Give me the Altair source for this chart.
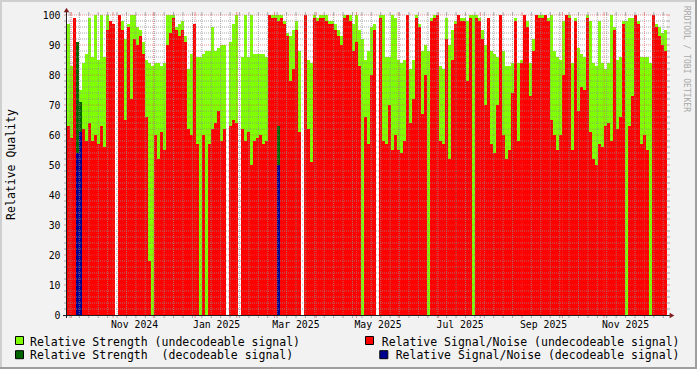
import altair as alt
import pandas as pd

# ---------------- data (one value per bin) ----------------
T0 = pd.Timestamp("2024-09-27 19:00:00")
SPAN_DAYS = 446
N_BINS = 200

strength = [
    97, 83, 83, None, 75, 84, 87, 99, 86, 100,
    85, 100, 86, 100, 98, 97, None, 100, 98, 92,
    97, 100, 100, 96, 95, 91, 85, 84, 83, 84,
    84, 83, 84, 100, 100, 100, 96, 97, 98, 93,
    82, 87, 88, 86, 86, 87, 88, 88, 96, 88,
    89, 90, 90, None, 91, 97, 100, None, 86, 100,
    86, 100, 87, 87, 87, 87, 86, 100, 100, 100,
    100, 100, 98, 94, 93, 95, 98, 88, None, 100,
    85, 84, 100, 99, 100, 100, 100, 98, 98, 97,
    95, 93, 100, 100, 100, 97, 100, 95, 92, 85,
    88, 96, 97, None, 100, 100, 86, 86, 100, 99,
    85, 84, 85, 100, 82, 85, 100, 97, 88, 90,
    88, 99, 100, 100, 83, 82, 99, 90, 95, 98,
    100, 99, 99, 98, 100, 100, 100, 99, 95, 90,
    99, 88, 87, 86, 100, 88, 83, 83, 84, 99,
    84, 85, 100, 98, 84, 92, 100, 100, 100, 100,
    99, 100, 88, 86, 85, 98, 100, 100, 84, 99,
    89, 87, 86, 100, 98, 84, 83, 98, 84, 82,
    84, 100, 96, 85, 86, 98, 98, 99, 99, 100,
    98, 86, 86, 86, 84, 100, 97, 96, 94, 95,
]
snr = [
    63, 59, 99, None, None, 62, 58, 64, 58, 60,
    57, 63, 56, 95, 98, 97, None, 100, 95, 65,
    96, 72, 92, 90, 93, 87, 66, 18, None, 60,
    52, 61, 55, 90, 94, 99, 95, 93, 95, 91,
    62, 60, 97, 57, None, 60, None, 57, 62, 64,
    68, 58, 62, None, 63, 65, 64, None, 62, 58,
    61, 50, 58, 59, 60, 57, 58, 100, 99, 99,
    98, 99, 97, 93, 78, 82, 95, 61, None, 100,
    62, 51, 99, 98, 99, 99, 98, 97, 97, 95,
    93, 90, 99, 100, 98, 88, 91, 83, None, 66,
    57, 80, 95, None, 99, 58, 57, 70, 55, 60,
    55, 54, 58, 100, 64, 72, 99, 96, 67, 80,
    None, 98, 99, 100, 58, 57, 92, 52, 85, 97,
    100, 98, 98, 78, 99, None, 99, 98, 92, 70,
    99, 57, 54, 70, 100, 60, 52, 55, 74, 98,
    58, 84, 100, 96, 73, 88, 100, 99, 99, 100,
    98, 65, 60, 55, 60, 80, 100, 99, 55, 98,
    68, 76, 75, 99, 61, 52, 50, 57, 56, 63,
    64, 58, 95, 62, 66, 97, None, 63, 73, 100,
    97, 57, 60, 55, None, 100, 96, 93, 90, 88,
]
dec_bins = [3, 4, 70]
dec_strength = [91, 71, 63]
dec_snr = [54, 61, 50]

y_ticks = list(range(0, 101, 10))
label_months = [(2024, 11), (2025, 1), (2025, 3), (2025, 5), (2025, 7), (2025, 9), (2025, 11)]
legend_labels = [
    "Relative Strength (undecodeable signal)",
    "Relative Strength\u00a0 (decodeable signal)",
    "Relative Signal/Noise (undecodeable signal)",
    "Relative Signal/Noise (decodeable signal)",
]
legend_colors = ["#80FF00", "#006400", "#FF0000", "#000090"]
watermark = ["RRDTOOL / TOBI OETIKER"]

# ---------------- tables ----------------
step = pd.Timedelta(days=SPAN_DAYS / N_BINS)
fmt = "%Y-%m-%dT%H:%M:%S"
t_start = [(T0 + i * step).strftime(fmt) for i in range(N_BINS)]
t_end = [(T0 + (i + 1) * step).strftime(fmt) for i in range(N_BINS)]
df = pd.DataFrame({"t": t_start, "t2": t_end, "S": strength, "N": snr})
df_dec = pd.DataFrame({
    "t": [t_start[i] for i in dec_bins],
    "t2": [t_end[i] for i in dec_bins],
    "S": dec_strength,
    "N": dec_snr,
})

T1 = T0 + pd.Timedelta(days=SPAN_DAYS)
months = pd.date_range("2024-10-01", "2025-12-01", freq="MS")
weeks = [w for w in pd.date_range("2024-09-30", "2025-12-15", freq="W-MON") if w.day != 1]
df_major_v = pd.DataFrame({"t": [m.strftime(fmt) for m in months]})
df_minor_v = pd.DataFrame({"t": [w.strftime(fmt) for w in weeks]})
df_major_h = pd.DataFrame({"v": list(range(10, 101, 10))})
df_minor_h = pd.DataFrame({"v": [v for v in range(2, 100, 2) if v % 10]})

# ---------------- scales / axes ----------------
FONT = "DejaVu Sans Mono"
xscale = alt.Scale(
    domain=[
        alt.DateTime(year=T0.year, month=T0.month, date=T0.day, hours=T0.hour),
        alt.DateTime(year=T1.year, month=T1.month, date=T1.day, hours=T1.hour),
    ],
    nice=False,
)
yscale = alt.Scale(domain=[0, 100], nice=False, zero=True)
xaxis = alt.Axis(
    values=[alt.DateTime(year=y, month=m, date=1) for y, m in label_months],
    format="%b %Y", labelOffset=21, labelFont=FONT, labelFontSize=9.8,
    labelColor="#000000", ticks=False, tickSize=0, domain=False, grid=False,
    labelPadding=4, labelFlush=False, labelOverlap=False, title=None,
)
yaxis = alt.Axis(
    values=y_ticks, labelFont=FONT, labelFontSize=9.8, labelColor="#000000",
    ticks=False, tickSize=0, domain=False, grid=False, labelPadding=7,
    labelFlush=False, labelOverlap=False,
    title="Relative Quality", titleFont=FONT, titleFontSize=11.5,
    titleFontWeight="normal", titleColor="#000000", titleAngle=-90,
    titleX=-55.5, titleY=149, titleAlign="center", titleBaseline="middle",
)


def X(field):
    return alt.X(f"{field}:T", scale=xscale, axis=xaxis)


def Y(field):
    return alt.Y(f"{field}:Q", scale=yscale, axis=yaxis)


def bars(data, field, color):
    return alt.Chart(data).transform_filter(f"isValid(datum.{field})").mark_rect(
        color=color, strokeWidth=0
    ).encode(x=X("t"), x2="t2:T", y=Y(field), y2=alt.datum(0))


green = bars(df, "S", "#80FF00")
red = bars(df, "N", "#FF0000")
dgreen = bars(df_dec, "S", "#006400")
blue = bars(df_dec, "N", "#000090")

GRID = "#8F8F8F"
MGRID = "#DE4F4F"
minor_v = alt.Chart(df_minor_v).mark_rule(color=GRID, opacity=0.75, strokeDash=[1, 1], strokeWidth=1).encode(x=X("t"))
major_v = alt.Chart(df_major_v).mark_rule(color=MGRID, opacity=0.6, strokeDash=[1, 1], strokeWidth=1).encode(x=X("t"))
minor_h = alt.Chart(df_minor_h).mark_rule(color=GRID, opacity=0.75, strokeDash=[1, 1], strokeWidth=1).encode(y=Y("v"))
major_h = alt.Chart(df_major_h).mark_rule(color=MGRID, opacity=0.6, strokeDash=[1, 1], strokeWidth=1).encode(y=Y("v"))

stub_layers = []
for d, col, op in [(df_minor_v, GRID, 0.75), (df_major_v, MGRID, 0.6)]:
    stub_layers.append(alt.Chart(d).mark_rule(color=col, opacity=op).encode(x=X("t"), y=alt.value(300), y2=alt.value(303)))
    stub_layers.append(alt.Chart(d).mark_rule(color=col, opacity=op).encode(x=X("t"), y=alt.value(-3), y2=alt.value(0)))
for d, col, op in [(df_minor_h, GRID, 0.75), (df_major_h, MGRID, 0.6)]:
    stub_layers.append(alt.Chart(d).mark_rule(color=col, opacity=op).encode(y=Y("v"), x=alt.value(600), x2=alt.value(603)))
    stub_layers.append(alt.Chart(d).mark_rule(color=col, opacity=op).encode(y=Y("v"), x=alt.value(-3), x2=alt.value(0)))

one = pd.DataFrame({"k": [0]})
AXIS = "#1F1F1F"
ARROW = "#801F1F"
x_axis_line = alt.Chart(one).mark_rule(color=AXIS, strokeWidth=1).encode(
    x=alt.value(-4), x2=alt.value(603), y=alt.value(300.5))
y_axis_line = alt.Chart(one).mark_rule(color=AXIS, strokeWidth=1).encode(
    x=alt.value(-0.5), y=alt.value(-4), y2=alt.value(303))
arrow_up = alt.Chart(one).mark_point(shape="triangle-up", filled=True, color=ARROW, size=30, opacity=1).encode(
    x=alt.value(-0.5), y=alt.value(-5))
arrow_right = alt.Chart(one).mark_point(shape="triangle-right", filled=True, color=ARROW, size=30, opacity=1).encode(
    x=alt.value(605), y=alt.value(300.5))

# frame (3D shade of the rrdtool canvas)
frame = [
    alt.Chart(one).mark_rule(color="#CFCFCF", strokeWidth=2).encode(x=alt.value(-67), x2=alt.value(630), y=alt.value(-14)),
    alt.Chart(one).mark_rule(color="#CFCFCF", strokeWidth=2).encode(x=alt.value(-66), y=alt.value(-15), y2=alt.value(354)),
    alt.Chart(one).mark_rule(color="#9E9E9E", strokeWidth=2).encode(x=alt.value(-67), x2=alt.value(630), y=alt.value(353)),
    alt.Chart(one).mark_rule(color="#9E9E9E", strokeWidth=2).encode(x=alt.value(629), y=alt.value(-15), y2=alt.value(354)),
]

# legend
legend_pos = [
    # (box x, box y, text x, text y, align)
    (-47.5, 325.5, -37, 330.5, "left"),
    (-47.5, 339.7, -37, 344.3, "left"),
    (302.5, 325.5, 612.5, 330.5, "right"),
    (316.8, 339.7, 612.5, 344.3, "right"),
]
legend_layers = []
for lab, col, (bx, by, tx, ty, al) in zip(legend_labels, legend_colors, legend_pos):
    d = pd.DataFrame({"label": [lab]})
    legend_layers.append(
        alt.Chart(d).mark_square(size=64, color=col, stroke="#000000", strokeWidth=1, opacity=1).encode(
            x=alt.value(bx), y=alt.value(by))
    )
    legend_layers.append(
        alt.Chart(d).mark_text(font=FONT, fontSize=11.5, align=al, baseline="alphabetic", color="#000000").encode(
            x=alt.value(tx), y=alt.value(ty), text="label:N")
    )

wm = alt.Chart(pd.DataFrame({"label": watermark})).mark_text(
    font=FONT, fontSize=8, angle=90, align="center", baseline="middle", color="#A8A8A8"
).encode(x=alt.value(619), y=alt.value(44), text="label:N")

chart = alt.layer(
    green, red, dgreen, blue,
    minor_v, minor_h, major_v, major_h,
    *stub_layers,
    x_axis_line, y_axis_line, arrow_up, arrow_right,
    *legend_layers, wm, *frame,
).properties(
    width=600, height=300,
    padding={"left": 67, "top": 15, "right": 30, "bottom": 54},
    autosize=alt.AutoSizeParams(type="none"),
    background="#F2F2F2",
).configure_view(fill="#FFFFFF", stroke=None)

chart.save("out.html", embed_options={"renderer": "svg", "actions": False})
